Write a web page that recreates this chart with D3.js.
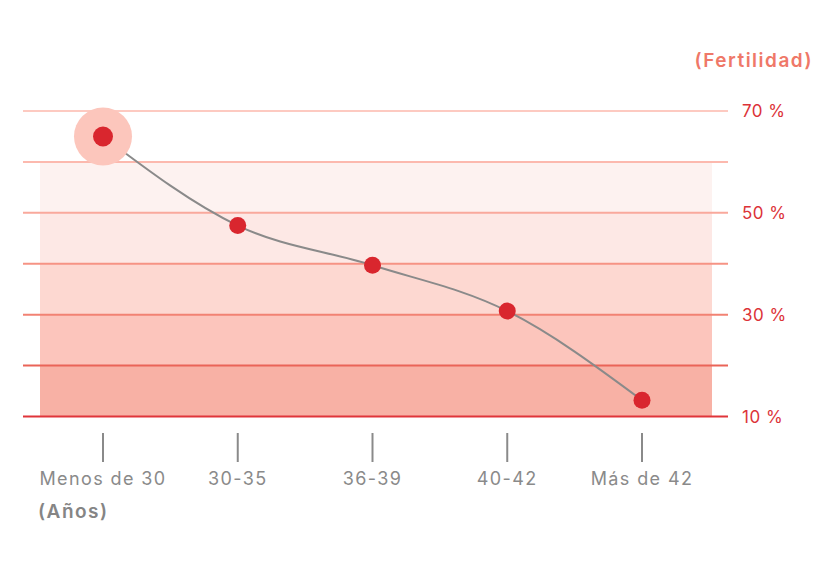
<!DOCTYPE html>
<html><head><meta charset="utf-8">
<script src="https://cdn.jsdelivr.net/npm/d3@7"></script>
<style>body{margin:0;background:#fff;} svg{display:block;}</style>
</head><body><svg id="c" width="823" height="567"></svg>
<script>
const categories = ["Menos de 30", "30-35", "36-39", "40-42", "Más de 42"];
const fertility = [65, 47.5, 39.7, 30.7, 13.2];
const gridValues = [70, 60, 50, 40, 30, 20, 10];
const tickLabels = [70, 50, 30, 10];
const bands = [[50, 60], [40, 50], [30, 40], [20, 30], [10, 20]];
const gridColors = ["#fdcac1", "#fcb9ae", "#f9a99c", "#f69384", "#f28273", "#ea6458", "#e0353a"];
const bandColors = ["#fdf2f0", "#fde8e5", "#fdd8d1", "#fcc5bc", "#f8b1a5"];

const svg = d3.select("#c");
const font = "Inter, 'Open Sans', sans-serif";
const x = d3.scalePoint().domain(categories).range([103, 642]);
const y = d3.scaleLinear().domain([10, 70]).range([416.5, 111]);
const gx0 = 23, gx1 = 728, bx0 = 40, bx1 = 712;

svg.append("g").selectAll("rect").data(bands).join("rect")
  .attr("x", bx0).attr("width", bx1 - bx0)
  .attr("y", d => y(d[1])).attr("height", d => y(d[0]) - y(d[1]))
  .attr("fill", (d, i) => bandColors[i]);

svg.append("g").selectAll("line").data(gridValues).join("line")
  .attr("x1", gx0).attr("x2", gx1)
  .attr("y1", d => y(d)).attr("y2", d => y(d))
  .attr("stroke", (d, i) => gridColors[i]).attr("stroke-width", 2);

svg.append("g").selectAll("text").data(tickLabels).join("text")
  .attr("x", 742).attr("y", d => y(d) + 6)
  .attr("fill", "#dc3338").attr("font-family", font).attr("font-size", 17)
  .attr("letter-spacing", 0.5)
  .text(d => d + " %");

svg.append("text").attr("x", 813).attr("y", 67).attr("text-anchor", "end")
  .attr("fill", "#ef7868").attr("font-family", font).attr("font-size", 19).attr("font-weight", 600)
  .attr("letter-spacing", 1.5)
  .text("(Fertilidad)");

const data = categories.map((c, i) => ({c, v: fertility[i]}));
const line = d3.line().x(d => x(d.c)).y(d => y(d.v)).curve(d3.curveMonotoneX);
svg.append("path").datum(data).attr("d", line)
  .attr("fill", "none").attr("stroke", "#8a8a8a").attr("stroke-width", 2);

svg.append("circle").attr("cx", x(categories[0])).attr("cy", y(fertility[0]))
  .attr("r", 29).attr("fill", "#fcc6bc");

svg.append("g").selectAll("circle").data(data).join("circle")
  .attr("cx", d => x(d.c)).attr("cy", d => y(d.v))
  .attr("r", (d, i) => i === 0 ? 10 : 8.5).attr("fill", "#d9262e");

svg.append("g").selectAll("line").data(categories).join("line")
  .attr("x1", d => x(d)).attr("x2", d => x(d)).attr("y1", 433).attr("y2", 462)
  .attr("stroke", "#8a8a8a").attr("stroke-width", 2);

svg.append("g").selectAll("text").data(categories).join("text")
  .attr("x", d => x(d)).attr("y", 485).attr("text-anchor", "middle")
  .attr("fill", "#8a8a8a").attr("font-family", font).attr("font-size", 18)
  .attr("letter-spacing", 1.4)
  .text(d => d);

svg.append("text").attr("x", 38).attr("y", 518)
  .attr("fill", "#858585").attr("font-family", font).attr("font-size", 19).attr("font-weight", 600)
  .attr("letter-spacing", 1.5)
  .text("(Años)");
</script></body></html>
